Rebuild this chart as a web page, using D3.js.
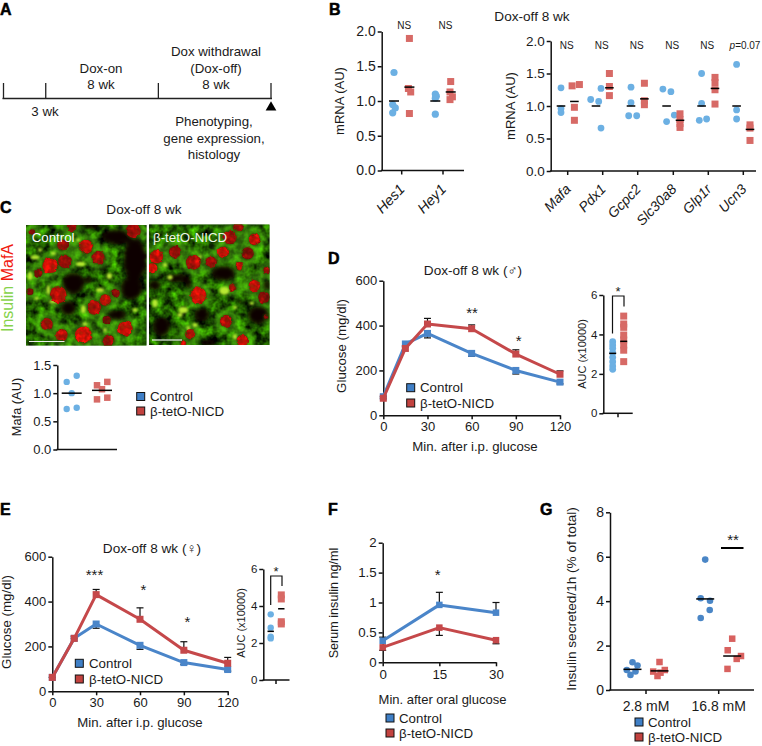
<!DOCTYPE html>
<html>
<head>
<meta charset="utf-8">
<script src="https://cdn.jsdelivr.net/npm/d3@7"></script>
<style>
  html, body { margin: 0; padding: 0; background: #fff; }
  svg { display: block; }
  text { font-family: "Liberation Sans", "DejaVu Sans", sans-serif; fill: #1a1a1a; }
  .domain, .tick line { stroke: #111; stroke-width: 1.5; }
  .letter { font-weight: bold; font-size: 16px; fill: #000; stroke: #000; stroke-width: 0.5; }
</style>
</head>
<body>
<div id="chart"></div>
<script>
// ---- data ----
var seriesNames = ['Control', 'β-tetO-NICD'];

// A: timeline
var timelineWeeks = [0, 3, 11, 19];

// B: mRNA, left block
var bLeftGenes = ['Hes1', 'Hey1'];
var bLeftControl = [[1.41, 0.95, 0.9, 0.83], [1.1, 1.07, 1.04, 0.81]];
var bLeftTreated = [[1.9, 1.18, 1.13, 0.82], [1.28, 1.13, 1.06, 1.02]];
var bLeftControlMean = [1.0, 1.0];
var bLeftTreatedMean = [1.2, 1.13];

// B: mRNA, right block
var bRightGenes = ['Mafa', 'Pdx1', 'Gcpc2', 'Slc30a8', 'Glp1r', 'Ucn3'];
var bRightControl = [
    [1.28, 0.96, 0.9],
    [1.27, 1.1, 1.07, 0.66],
    [1.29, 1.05, 0.85, 0.85],
    [1.26, 1.22, 0.86, 0.76],
    [1.5, 1.04, 0.8, 0.78],
    [1.64, 0.94, 0.8]
];
var bRightTreated = [
    [1.31, 1.33, 0.98, 0.78],
    [1.5, 1.3, 1.16],
    [1.35, 1.08, 1.02],
    [0.88, 0.79, 0.73, 0.67],
    [1.44, 1.36, 1.25, 1.03],
    [0.71, 0.66, 0.47]
];
var bRightControlMean = [1.0, 1.0, 1.0, 1.0, 1.0, 1.0];
var bRightTreatedMean = [1.07, 1.28, 1.11, 0.78, 1.27, 0.64];
var bRightSig = ['NS', 'NS', 'NS', 'NS', 'NS', 'p=0.07'];

// C: Mafa
var cControl = [1.31, 1.2, 1.0, 0.74, 0.72];
var cTreated = [1.2, 1.14, 1.07, 0.92, 0.89];
var cMeans = [1.0, 1.05];

// D: male GTT
var gttMinutes = [0, 15, 30, 60, 90, 120];
var dControl = [83, 318, 365, 276, 200, 148];
var dTreated = [76, 298, 407, 386, 273, 183];
var dControlErrLow = [76, 305, 345, 263, 184, 140];
var dTreatedErrHigh = [84, 310, 432, 403, 292, 198];
var dAucControl = [3.63, 3.46, 3.3, 3.07, 2.84, 2.62, 2.4, 2.23];
var dAucTreated = [4.93, 4.53, 4.36, 3.97, 3.72, 3.46, 3.2, 2.62];
var dAucMeans = [3.04, 3.65];

// E: female GTT
var eControl = [62, 236, 300, 205, 128, 97];
var eTreated = [62, 236, 431, 321, 183, 125];
var eControlErrLow = [62, 236, 281, 187, 120, 90];
var eTreatedErrHigh = [62, 245, 454, 372, 221, 151];
var eAucControl = [3.55, 2.83, 2.34, 2.25];
var eAucTreated = [4.6, 4.38, 3.15, 3.03];
var eAucMeans = [2.63, 3.85];

// F: serum insulin
var fMinutes = [0, 15, 30];
var fControl = [0.36, 0.96, 0.83];
var fTreated = [0.25, 0.58, 0.37];
var fControlErrHigh = [0.42, 1.17, 1.0];
var fTreatedErrLow = [0.2, 0.45, 0.31];

// G: insulin secretion
var gDoses = ['2.8 mM', '16.8 mM'];
var gControl = [[1.25, 1.1, 0.9, 0.83, 0.68], [5.87, 4.13, 4.02, 3.6, 3.24]];
var gTreated = [[1.26, 0.9, 0.83, 0.78, 0.63], [2.31, 1.79, 1.53, 1.4, 0.95]];
var gControlMean = [0.93, 4.1];
var gTreatedMean = [0.86, 1.53];

// ---- layout only: sideways jitter of the dots in px, same order as the values ----
var bLeftControlJitter = [[0, -1.3, 1.3, -1.3], [0, 1, 0, 0]];
var bLeftTreatedJitter = [[0, -1, 1.3, 0], [0, -0.7, 1.7, -0.7]];
var bRightControlJitter = [
    [0, 0, 0],
    [5, -5.3, 2.7, 5],
    [0, 0, -2.3, 5.7],
    [-3.7, 4.3, 7.7, 0],
    [0, 0, 5, -2.3],
    [0, 0, 0]
];
var bRightTreatedJitter = [
    [-2.3, 5, 0, 0],
    [0, 0, 0],
    [0, 0, 0],
    [0, 0, 0, 0],
    [0, 0, 0, 0],
    [0, 0, 0]
];
var cControlJitter = [5, -5, 0, 5, -5];
var cTreatedJitter = [5.3, -5, 0, 5.3, -5];
var gControlJitter = [[0, 5, -5.7, 3, -2], [0, -4.5, 4.8, 4.5, -4.5]];
var gTreatedJitter = [[0, 5.3, -6.3, 1, -2], [0, -4.5, 8.8, 4.5, -4.7]];

var colors = {
    dotBlue: '#6cb0e3',
    dotRed: '#d76a66',
    gBlue: '#4a86c6',
    gRed: '#d8615f',
    lineBlue: '#4a85c9',
    lineRed: '#c5484a',
    legendBlue: '#3f7fc6',
    legendRed: '#c2423f'
};

var svg = d3.select('#chart').append('svg').attr('width', 762).attr('height', 746);

function label(x, y, str, size, anchor, rotate) {
    var t = svg.append('text')
        .attr('text-anchor', anchor || 'middle')
        .style('font-size', size + 'px')
        .text(str);
    if (rotate) {
        t.attr('transform', 'translate(' + x + ',' + y + ') rotate(' + rotate + ')');
    } else {
        t.attr('x', x).attr('y', y);
    }
    return t;
}

function letter(x, y, str) {
    svg.append('text').attr('class', 'letter').attr('x', x).attr('y', y).text(str);
}

function yAxis(y, x, vals, fmt, size) {
    var g = svg.append('g')
        .attr('transform', 'translate(' + x + ',0)')
        .call(d3.axisLeft(y).tickValues(vals).tickFormat(fmt).tickSize(4).tickSizeOuter(0).tickPadding(2));
    g.selectAll('text').style('font-size', size + 'px');
    return g;
}

function xBaseline(x0, x1, yPos, ticks) {
    svg.append('line').attr('x1', x0 - 0.75).attr('x2', x1).attr('y1', yPos).attr('y2', yPos)
        .attr('stroke', '#111').attr('stroke-width', 1.5);
    (ticks || []).forEach(function(t) {
        svg.append('line').attr('x1', t).attr('x2', t).attr('y1', yPos).attr('y2', yPos + 4)
            .attr('stroke', '#111').attr('stroke-width', 1.5);
    });
}

function dots(cx, y, values, jitter, color, r) {
    svg.append('g').selectAll('circle').data(values).enter().append('circle')
        .attr('cx', function(d, i) { return cx + jitter[i]; })
        .attr('cy', function(d) { return y(d); })
        .attr('r', r)
        .attr('fill', color);
}

function squares(cx, y, values, jitter, color, s) {
    svg.append('g').selectAll('rect').data(values).enter().append('rect')
        .attr('x', function(d, i) { return cx + jitter[i] - s / 2; })
        .attr('y', function(d) { return y(d) - s / 2; })
        .attr('width', s)
        .attr('height', s)
        .attr('fill', color);
}

function meanLine(cx, y, value, half) {
    svg.append('line').attr('x1', cx - half).attr('x2', cx + half)
        .attr('y1', y(value)).attr('y2', y(value))
        .attr('stroke', '#000').attr('stroke-width', 1.5);
}

function legend(x, textX, ys, size) {
    var fills = [colors.legendBlue, colors.legendRed];
    seriesNames.forEach(function(name, i) {
        svg.append('rect').attr('x', x - 4).attr('y', ys[i] - 4).attr('width', 8).attr('height', 8)
            .attr('fill', fills[i]).attr('stroke', '#111').attr('stroke-width', 1);
        label(textX, ys[i] + 4.7, name, size, 'start');
    });
}

function errorBars(x, y, minutes, means, ends, capHalf) {
    var g = svg.append('g').attr('stroke', '#111').attr('stroke-width', 1.2);
    minutes.forEach(function(m, i) {
        g.append('line').attr('x1', x(m)).attr('x2', x(m)).attr('y1', y(means[i])).attr('y2', y(ends[i]));
        g.append('line').attr('x1', x(m) - capHalf).attr('x2', x(m) + capHalf).attr('y1', y(ends[i])).attr('y2', y(ends[i]));
    });
}

function series(x, y, minutes, values, color, s) {
    var line = d3.line()
        .x(function(d, i) { return x(minutes[i]); })
        .y(function(d) { return y(d); });
    svg.append('path').attr('d', line(values)).attr('fill', 'none')
        .attr('stroke', color).attr('stroke-width', 3).attr('stroke-linejoin', 'round');
    svg.append('g').selectAll('rect').data(values).enter().append('rect')
        .attr('x', function(d, i) { return x(minutes[i]) - s / 2; })
        .attr('y', function(d) { return y(d) - s / 2; })
        .attr('width', s).attr('height', s)
        .attr('fill', color);
}

// ---- A ----
letter(0, 14.6, 'A');
var weekX = d3.scaleLinear().domain([0, 19]).range([3.5, 271]);
svg.append('line').attr('x1', weekX(0) - 1).attr('x2', weekX(19) + 1).attr('y1', 98.5).attr('y2', 98.5)
    .attr('stroke', '#222').attr('stroke-width', 1.3);
timelineWeeks.forEach(function(w) {
    svg.append('line').attr('x1', weekX(w)).attr('x2', weekX(w)).attr('y1', 83).attr('y2', 99)
        .attr('stroke', '#222').attr('stroke-width', 1.3);
});
svg.append('path').attr('d', d3.symbol(d3.symbolTriangle, 50)())
    .attr('transform', 'translate(' + weekX(19) + ',107.5)').attr('fill', '#000');
label(101, 73, 'Dox-on', 13.3);
label(101, 89, '8 wk', 13.3);
label(216, 56, 'Dox withdrawal', 13.3);
label(216, 73, '(Dox-off)', 13.3);
label(216, 89, '8 wk', 13.3);
label(45, 116, '3 wk', 13.3);
label(214, 126, 'Phenotyping,', 13.3);
label(214, 143, 'gene expression,', 13.3);
label(214, 159, 'histology', 13.3);

// ---- B ----
letter(329, 14.6, 'B');
label(532, 21, 'Dox-off 8 wk', 13.6);
var fmt1 = d3.format('.1f');

var bLeftY = d3.scaleLinear().domain([0, 2]).range([170.5, 31.5]);
var bLeftTicks = [401.7, 443];
yAxis(bLeftY, 381.7, [0, 0.5, 1, 1.5, 2], fmt1, 14);
xBaseline(381.7, 464, 170.5, bLeftTicks);
bLeftGenes.forEach(function(gene, i) {
    var tick = bLeftTicks[i];
    dots(tick - 7.7, bLeftY, bLeftControl[i], bLeftControlJitter[i], colors.dotBlue, 3.6);
    squares(tick + 7.7, bLeftY, bLeftTreated[i], bLeftTreatedJitter[i], colors.dotRed, 7);
    meanLine(tick - 7.7, bLeftY, bLeftControlMean[i], 5);
    meanLine(tick + 7.7, bLeftY, bLeftTreatedMean[i], 5);
    label(tick + 4, 190, gene, 14.5, 'end', -46).style('font-style', 'italic');
    label(tick + 2.5, 29, 'NS', 10);
});
label(339, 101, 'mRNA (AU)', 13, 'middle', -90).attr('dy', '0.35em');

var bRightY = d3.scaleLinear().domain([0, 2]).range([171, 41]);
var bRightTicks = [567.7, 602.7, 637.7, 673.3, 708.3, 743.3];
yAxis(bRightY, 550.7, [0, 0.5, 1, 1.5, 2], fmt1, 13.5);
xBaseline(550.7, 756, 171, bRightTicks);
bRightGenes.forEach(function(gene, i) {
    var tick = bRightTicks[i];
    dots(tick - 6.7, bRightY, bRightControl[i], bRightControlJitter[i], colors.dotBlue, 3.4);
    squares(tick + 6.7, bRightY, bRightTreated[i], bRightTreatedJitter[i], colors.dotRed, 7);
    meanLine(tick - 6.7, bRightY, bRightControlMean[i], 4.3);
    meanLine(tick + 6.7, bRightY, bRightTreatedMean[i], 4.3);
    label(tick + 4, 190, gene, 14, 'end', -46).style('font-style', 'italic');
    var sig = label(tick + (i === 5 ? 1.7 : -1), 49, '', 10);
    if (bRightSig[i].indexOf('=') < 0) {
        sig.text(bRightSig[i]);
    } else {
        sig.append('tspan').style('font-style', 'italic').text(bRightSig[i].charAt(0));
        sig.append('tspan').text(bRightSig[i].slice(1));
    }
});
label(510, 106, 'mRNA (AU)', 13, 'middle', -90).attr('dy', '0.35em');

// ---- C micrographs ----
letter(0, 213, 'C');
label(144, 214, 'Dox-off 8 wk', 13.6);

var leftNuclei = [
    [340, 32, 22, .6], [155, 20, 14, .5], [128, 75, 16, .55], [198, 80, 21, .85], [90, 136, 23, 1],
    [135, 124, 20, .5], [234, 113, 20, .6], [55, 158, 12, .4], [115, 224, 25, .8], [222, 263, 21, .65],
    [256, 240, 17, .8], [286, 220, 13, .4], [30, 215, 10, .35], [80, 312, 18, .65], [316, 325, 22, .9],
    [190, 345, 25, 1], [125, 345, 18, .75], [265, 362, 18, .5], [260, 300, 12, .3], [37, 36, 8, .4]
];
var leftHoles = [
    [290, 50, 46, 24], [345, 120, 36, 66], [335, 205, 34, 36], [160, 190, 34, 34], [145, 265, 24, 24],
    [290, 285, 32, 16], [215, 18, 36, 10], [205, 180, 12, 12]
];
var leftFlecks = [
    [100, 100, 8, 5], [45, 112, 13, 6], [30, 168, 7, 12], [85, 210, 5, 14], [100, 245, 12, 5], [50, 235, 6, 5],
    [182, 132, 14, 7], [240, 210, 12, 6], [268, 168, 8, 9], [190, 268, 7, 12], [345, 270, 8, 6], [195, 312, 8, 5],
    [175, 60, 6, 5], [255, 330, 5, 6], [60, 90, 6, 5]
];
var rightNuclei = [
    [280, 20, 15, .6], [255, 52, 20, .6], [328, 58, 17, .85], [34, 110, 20, .85], [90, 95, 18, .5],
    [235, 97, 17, .95], [145, 127, 22, .65], [198, 127, 17, .55], [308, 100, 18, .4], [283, 140, 11, .9],
    [365, 152, 10, .5], [22, 145, 15, 1], [328, 197, 17, .85], [262, 202, 10, .55], [357, 232, 17, .4],
    [160, 226, 24, 1], [243, 303, 18, .7], [136, 343, 15, .8], [292, 362, 17, .95], [115, 370, 8, .9],
    [363, 290, 7, .3]
];
var rightHoles = [
    [235, 160, 36, 24], [100, 175, 36, 14], [30, 195, 20, 16], [340, 285, 33, 28], [170, 285, 24, 22],
    [50, 320, 28, 30], [190, 368, 28, 10], [365, 195, 12, 16], [285, 245, 16, 8], [130, 190, 10, 22]
];
var rightFlecks = [
    [238, 212, 15, 12], [115, 270, 14, 10], [75, 172, 8, 7], [30, 250, 8, 12], [60, 135, 7, 6], [150, 315, 8, 6],
    [270, 350, 6, 8], [320, 250, 7, 5], [105, 285, 8, 6], [165, 110, 5, 5], [270, 262, 6, 5], [130, 325, 5, 8]
];

var defs = svg.append('defs');
var tex = defs.append('filter').attr('id', 'tissue').attr('x', 0).attr('y', 0).attr('width', 1).attr('height', 1)
    .attr('color-interpolation-filters', 'sRGB');
tex.append('feTurbulence').attr('type', 'fractalNoise').attr('baseFrequency', 0.11).attr('numOctaves', 3).attr('seed', 7);
tex.append('feColorMatrix').attr('type', 'matrix')
    .attr('values', '0 0.5 0 0 -0.12  0 1.35 0 0 -0.3  0 0 0 0 0  0 0 0 0 1');
defs.append('filter').attr('id', 'soft').attr('x', '-50%').attr('y', '-50%').attr('width', '200%').attr('height', '200%')
    .append('feGaussianBlur').attr('stdDeviation', 2.4);
defs.append('filter').attr('id', 'softer').attr('x', '-50%').attr('y', '-50%').attr('width', '200%').attr('height', '200%')
    .append('feGaussianBlur').attr('stdDeviation', 0.9);
var nucF = defs.append('filter').attr('id', 'nucleus').attr('x', '-30%').attr('y', '-30%').attr('width', '160%').attr('height', '160%')
    .attr('color-interpolation-filters', 'sRGB');
nucF.append('feTurbulence').attr('type', 'fractalNoise').attr('baseFrequency', 0.2).attr('numOctaves', 2).attr('seed', 3).attr('result', 'n');
nucF.append('feDisplacementMap').attr('in', 'SourceGraphic').attr('in2', 'n').attr('scale', 3.5)
    .attr('xChannelSelector', 'R').attr('yChannelSelector', 'G').attr('result', 'd');
nucF.append('feGaussianBlur').attr('in', 'd').attr('stdDeviation', 0.7).attr('result', 'b');
nucF.append('feComposite').attr('in', 'b').attr('in2', 'n').attr('operator', 'arithmetic')
    .attr('k1', 1.1).attr('k2', 0.55).attr('k3', 0).attr('k4', 0);

var nucleusColor = d3.scaleLinear().domain([0, 1]).range(['#5c0d0a', '#ff1408']);

function micrograph(id, box, nuclei, holes, flecks) {
    // coordinates in the lists are 3x photo pixels, fitted onto the photo by the two scales
    var px = d3.scaleLinear().domain([0, 390]).range([box.ox, box.ox + 130]);
    var py = d3.scaleLinear().domain([0, 390]).range([box.oy, box.oy + 130]);
    defs.append('clipPath').attr('id', id).append('rect')
        .attr('x', box.x).attr('y', box.y).attr('width', box.w).attr('height', box.h);
    var g = svg.append('g').attr('clip-path', 'url(#' + id + ')');
    g.append('rect').attr('x', box.x).attr('y', box.y).attr('width', box.w).attr('height', box.h)
        .attr('fill', '#2f7a10');
    g.append('rect').attr('x', box.x).attr('y', box.y).attr('width', box.w).attr('height', box.h)
        .attr('filter', 'url(#tissue)').attr('opacity', 1);
    // cytoplasm lit up around each nucleus
    g.append('g').attr('filter', 'url(#soft)').attr('opacity', 0.5).selectAll('circle').data(nuclei).enter().append('circle')
        .attr('cx', function(d) { return px(d[0]); }).attr('cy', function(d) { return py(d[1]); })
        .attr('r', function(d) { return d[2] / 3 + 6; })
        .attr('fill', '#58c018');
    g.append('g').attr('filter', 'url(#soft)').selectAll('ellipse').data(holes).enter().append('ellipse')
        .attr('cx', function(d) { return px(d[0]); }).attr('cy', function(d) { return py(d[1]); })
        .attr('rx', function(d) { return d[2] / 3; }).attr('ry', function(d) { return d[3] / 3; })
        .attr('fill', '#070400');
    // dark rim of each cell nucleus
    g.append('g').attr('filter', 'url(#softer)').selectAll('circle').data(nuclei).enter().append('circle')
        .attr('cx', function(d) { return px(d[0]); }).attr('cy', function(d) { return py(d[1]); })
        .attr('r', function(d) { return d[2] / 3 + 0.8; })
        .attr('fill', '#2a3d06').attr('opacity', 0.7);
    g.append('g').attr('filter', 'url(#softer)').selectAll('ellipse').data(flecks).enter().append('ellipse')
        .attr('cx', function(d) { return px(d[0]); }).attr('cy', function(d) { return py(d[1]); })
        .attr('rx', function(d) { return d[2] / 3; }).attr('ry', function(d) { return d[3] / 3; })
        .attr('fill', '#b8ea30');
    g.append('g').attr('filter', 'url(#nucleus)').selectAll('circle').data(nuclei).enter().append('circle')
        .attr('cx', function(d) { return px(d[0]); }).attr('cy', function(d) { return py(d[1]); })
        .attr('r', function(d) { return d[2] / 3; })
        .attr('fill', function(d) { return nucleusColor(d[3]); });
}

micrograph('photoLeft', {x: 26, y: 225, w: 120.5, h: 120.5, ox: 20, oy: 220}, leftNuclei, leftHoles, leftFlecks);
micrograph('photoRight', {x: 149, y: 224.5, w: 120.5, h: 120.5, ox: 145, oy: 220}, rightNuclei, rightHoles, rightFlecks);

label(31.7, 242, 'Control', 13.3, 'start').style('fill', '#fff');
label(153, 242, 'β-tetO-NICD', 13.3, 'start').style('fill', '#eef6e6');
svg.append('line').attr('x1', 29).attr('x2', 64.5).attr('y1', 341.5).attr('y2', 341.5).attr('stroke', '#eee').attr('stroke-width', 1.2);
svg.append('line').attr('x1', 152).attr('x2', 182).attr('y1', 340).attr('y2', 340).attr('stroke', '#eee').attr('stroke-width', 1.2);

var stain = label(12.5, 332, '', 16, 'start', -90);
stain.append('tspan').style('fill', '#86d24a').text('Insulin ');
stain.append('tspan').style('fill', '#f01a10').text('MafA');

// ---- C dot plot ----
var cY = d3.scaleLinear().domain([0, 1.5]).range([449.5, 365]);
yAxis(cY, 57.3, [0, 0.5, 1, 1.5], fmt1, 13);
xBaseline(57.3, 117, 449.5);
dots(71.7, cY, cControl, cControlJitter, colors.dotBlue, 3.2);
squares(102, cY, cTreated, cTreatedJitter, colors.dotRed, 6.5);
meanLine(71.7, cY, cMeans[0], 10);
meanLine(102, cY, cMeans[1], 10);
label(17, 407, 'Mafa (AU)', 12.8, 'middle', -90).attr('dy', '0.35em');
legend(140.7, 150, [396.5, 411], 13.3);

// ---- D ----
letter(328, 264, 'D');
label(473, 275, 'Dox-off 8 wk (♂)', 13.6);
var dX = d3.scaleLinear().domain([0, 120]).range([383.3, 560]);
var dY = d3.scaleLinear().domain([0, 600]).range([415.3, 280.7]);
yAxis(dY, 383.3, [0, 200, 400, 600], d3.format('d'), 13);
var dXAxis = svg.append('g').attr('transform', 'translate(0,415.3)')
    .call(d3.axisBottom(dX).tickValues([0, 30, 60, 90, 120]).tickSize(4).tickSizeOuter(0).tickPadding(2));
dXAxis.selectAll('text').style('font-size', '13px');
errorBars(dX, dY, gttMinutes, dControl, dControlErrLow, 3.5);
errorBars(dX, dY, gttMinutes, dTreated, dTreatedErrHigh, 3.5);
series(dX, dY, gttMinutes, dControl, colors.lineBlue, 7);
series(dX, dY, gttMinutes, dTreated, colors.lineRed, 7);
label(472, 318, '**', 15);
label(518.7, 346, '*', 15);
label(341, 346, 'Glucose (mg/dl)', 13.3, 'middle', -90).attr('dy', '0.35em');
label(475, 451, 'Min. after i.p. glucose', 13.2);
legend(410.7, 420, [387.7, 403], 13.3);

var dAucY = d3.scaleLinear().domain([0, 6]).range([413.3, 295]);
yAxis(dAucY, 603.3, [0, 2, 4, 6], d3.format('d'), 11.5);
xBaseline(603.3, 632.7, 413.3, [618]);
dots(612.7, dAucY, dAucControl, d3.range(8).map(function() { return 0; }), colors.dotBlue, 3.4);
squares(623.7, dAucY, dAucTreated, d3.range(8).map(function() { return 0; }), colors.dotRed, 7);
meanLine(612.7, dAucY, dAucMeans[0], 3.5);
meanLine(623.7, dAucY, dAucMeans[1], 3.5);
svg.append('path').attr('d', d3.line()([[612.5, 333.5], [612.5, 296], [624, 296], [624, 306.5]]))
    .attr('fill', 'none').attr('stroke', '#111').attr('stroke-width', 1.2);
label(618, 296, '*', 13);
label(582, 354, 'AUC (x10000)', 11, 'middle', -90).attr('dy', '0.35em');

// ---- E ----
letter(0, 515, 'E');
label(152, 553, 'Dox-off 8 wk (♀)', 13.6);
var eX = d3.scaleLinear().domain([0, 120]).range([52.3, 227.7]);
var eY = d3.scaleLinear().domain([0, 600]).range([691.3, 556.7]);
yAxis(eY, 52.3, [0, 200, 400, 600], d3.format('d'), 13);
var eXAxis = svg.append('g').attr('transform', 'translate(0,691.3)')
    .call(d3.axisBottom(eX).tickValues([0, 30, 60, 90, 120]).tickSize(4).tickSizeOuter(0).tickPadding(2));
eXAxis.selectAll('text').style('font-size', '13px');
errorBars(eX, eY, gttMinutes, eControl, eControlErrLow, 3.5);
errorBars(eX, eY, gttMinutes, eTreated, eTreatedErrHigh, 3.5);
series(eX, eY, gttMinutes, eControl, colors.lineBlue, 7);
series(eX, eY, gttMinutes, eTreated, colors.lineRed, 7);
label(94.5, 579.5, '***', 15);
label(143.5, 595, '*', 15);
label(187.5, 627, '*', 15);
label(6, 622, 'Glucose (mg/dl)', 13.3, 'middle', -90).attr('dy', '0.35em');
label(140, 727, 'Min. after i.p. glucose', 13.2);
legend(79.3, 89, [663.3, 679], 13.3);

var eAucY = d3.scaleLinear().domain([0, 6]).range([680, 569]);
yAxis(eAucY, 263.3, [0, 2, 4, 6], d3.format('d'), 11.5);
xBaseline(263.3, 289.5, 680, [276]);
dots(270.7, eAucY, eAucControl, [0, 0, 0, 0], colors.dotBlue, 3.2);
squares(281.3, eAucY, eAucTreated, [0, 0, 0, 0], colors.dotRed, 7);
meanLine(270.7, eAucY, eAucMeans[0], 3.2);
meanLine(281.3, eAucY, eAucMeans[1], 3.2);
svg.append('path').attr('d', d3.line()([[270.7, 605], [270.7, 576], [282, 576], [282, 586]]))
    .attr('fill', 'none').attr('stroke', '#111').attr('stroke-width', 1.2);
label(276, 575.5, '*', 13);
label(241, 623, 'AUC (x10000)', 11, 'middle', -90).attr('dy', '0.35em');

// ---- F ----
letter(328, 515, 'F');
var fX = d3.scaleLinear().domain([0, 30]).range([382.7, 496]);
var fY = d3.scaleLinear().domain([0, 2]).range([662.3, 542.7]);
yAxis(fY, 382.7, [0, 0.5, 1, 1.5, 2], d3.format('~g'), 13.3);
var fXAxis = svg.append('g').attr('transform', 'translate(0,662.3)')
    .call(d3.axisBottom(fX).tickValues(fMinutes).tickSize(4).tickSizeOuter(0).tickPadding(3));
fXAxis.selectAll('text').style('font-size', '13.3px');
errorBars(fX, fY, fMinutes, fControl, fControlErrHigh, 3.5);
errorBars(fX, fY, fMinutes, fTreated, fTreatedErrLow, 3.5);
series(fX, fY, fMinutes, fControl, colors.lineBlue, 6.5);
series(fX, fY, fMinutes, fTreated, colors.lineRed, 6.5);
label(437.7, 580, '*', 15);
label(334, 603, 'Serum insulin ng/ml', 12.6, 'middle', -90).attr('dy', '0.35em');
label(442.5, 704, 'Min. after oral glucose', 13);
legend(390, 399, [718, 733], 13.3);

// ---- G ----
letter(540, 515, 'G');
var gY = d3.scaleLinear().domain([0, 8]).range([690, 512.3]);
var gTicks = [646, 718.7];
yAxis(gY, 610, [0, 2, 4, 6, 8], d3.format('d'), 14);
xBaseline(610, 754, 690, gTicks);
gDoses.forEach(function(dose, i) {
    var tick = gTicks[i];
    dots(tick - 13.5, gY, gControl[i], gControlJitter[i], colors.gBlue, 3.3);
    squares(tick + 13.5, gY, gTreated[i], gTreatedJitter[i], colors.gRed, 6.5);
    meanLine(tick - 13.5, gY, gControlMean[i], 9);
    meanLine(tick + 13.5, gY, gTreatedMean[i], 9);
    label(tick, 711, dose, 14);
});
svg.append('line').attr('x1', 721).attr('x2', 743.5).attr('y1', 548).attr('y2', 548)
    .attr('stroke', '#000').attr('stroke-width', 2);
label(733, 545, '**', 15);
label(571, 599, 'Insulin secreted/1h (% of total)', 13.6, 'middle', -90).attr('dy', '0.35em');
legend(639, 648, [722, 737], 13.3);
</script>
</body>
</html>
